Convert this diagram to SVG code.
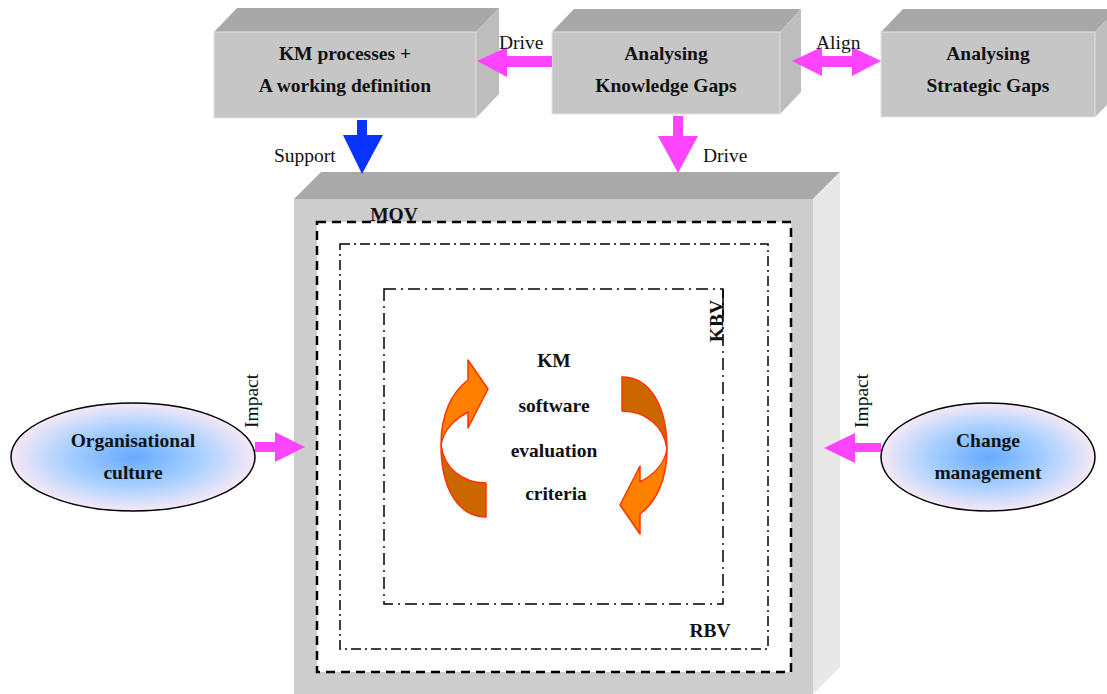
<svg xmlns="http://www.w3.org/2000/svg" width="1107" height="694" viewBox="0 0 1107 694">
<defs>
<radialGradient id="eg" cx="50%" cy="50%" r="50%">
<stop offset="0" stop-color="#66aaff"/>
<stop offset="0.55" stop-color="#a8d0ff"/>
<stop offset="1" stop-color="#f6e8f6"/>
</radialGradient>
<style>
.front{fill:#c6c6c6;stroke:#e2e2e2;stroke-width:1}
.top{fill:#a8a8a8}
.side{fill:#bdbdbd}
.t{font-family:"Liberation Serif","Times New Roman",serif;font-weight:bold;font-size:19.5px;fill:#111;text-anchor:middle}
.l{font-family:"Liberation Serif","Times New Roman",serif;font-size:19.5px;fill:#111}
.pink{fill:#ff44ff}
.blue{fill:#0a33ff}
.fr{fill:#ff8000;stroke:#ff3300;stroke-width:1.5;stroke-linejoin:round}
.bk{fill:#cc6600;stroke:#ff3300;stroke-width:1.5;stroke-linejoin:round}
.ell{fill:url(#eg);stroke:#000;stroke-width:1.5}
</style>
</defs>
<rect width="1107" height="694" fill="#fff"/>

<g id="frame">
<polygon points="294,199 321,172 840,172 813,199" fill="#a9a9a9"/>
<polygon points="813,199 840,172 840,667 813,694" fill="#e8e8e8"/>
<rect x="294" y="199" width="519" height="495" fill="#cdcdcd"/>
<rect x="317" y="222" width="474" height="450" fill="#fff" stroke="#000" stroke-width="2.5" stroke-dasharray="9,6"/>
<rect x="340" y="244" width="428" height="405" fill="none" stroke="#000" stroke-width="1.5" stroke-dasharray="10,4,2,4"/>
<rect x="384" y="289" width="339" height="315" fill="none" stroke="#000" stroke-width="1.5" stroke-dasharray="12,5,2,5"/>
<line x1="723" y1="290" x2="723" y2="316" stroke="#000" stroke-width="1.5"/>
<text class="t" x="394" y="221">MOV</text>
<text class="t" x="710" y="637">RBV</text>
<text class="t" transform="translate(723,321) rotate(-90)">KBV</text>
</g>

<g id="cycle">
<g id="arrow-left">
<path class="bk" d="M 441,445 C 444,468 462,483 486,483 L 486,517 C 458,517 441,488 441,445 Z"/>
<path class="fr" d="M 441,445 C 441,414 452,392 468,380 L 468,360 L 488,389 L 468,428 L 468,412 C 453,420 443,432 441,445 Z"/>
</g>
<g id="arrow-right" transform="rotate(180 554 447)">
<path class="bk" d="M 441,445 C 444,468 462,483 486,483 L 486,517 C 458,517 441,488 441,445 Z"/>
<path class="fr" d="M 441,445 C 441,414 452,392 468,380 L 468,360 L 488,389 L 468,428 L 468,412 C 453,420 443,432 441,445 Z"/>
</g>
<text class="t" x="554" y="367">KM</text>
<text class="t" x="554" y="412">software</text>
<text class="t" x="554" y="457">evaluation</text>
<text class="t" x="556" y="500">criteria</text>
</g>

<g id="box-km">
<polygon class="top" points="214,32 237,8 499,8 476,32"/>
<polygon class="side" points="476,32 499,8 499,94 476,118"/>
<rect class="front" x="214" y="32" width="262" height="86"/>
<text class="t" x="345" y="60">KM processes +</text>
<text class="t" x="345" y="92">A working definition</text>
</g>

<g id="box-kgaps">
<polygon class="top" points="552,32 574,9 801,9 780,32"/>
<polygon class="side" points="780,32 801,9 801,92 780,114"/>
<rect class="front" x="552" y="32" width="228" height="82"/>
<text class="t" x="666" y="60">Analysing</text>
<text class="t" x="666" y="92">Knowledge Gaps</text>
</g>

<g id="box-sgaps">
<polygon class="top" points="881,32 903,9 1117,9 1095,32"/>
<polygon class="side" points="1095,32 1117,9 1117,95 1095,117"/>
<rect class="front" x="881" y="32" width="214" height="85"/>
<text class="t" x="988" y="60">Analysing</text>
<text class="t" x="988" y="92">Strategic Gaps</text>
</g>

<g id="org-culture">
<ellipse class="ell" cx="133" cy="457" rx="122" ry="54"/>
<text class="t" x="133" y="447">Organisational</text>
<text class="t" x="133" y="479">culture</text>
</g>

<g id="change-mgmt">
<ellipse class="ell" cx="988" cy="457" rx="107" ry="54"/>
<text class="t" x="988" y="447">Change</text>
<text class="t" x="988" y="479">management</text>
</g>

<g id="connectors">
<polygon class="pink" points="552,56 507,56 507,47 477,61 507,77 507,67 552,67"/>
<text class="l" x="499" y="49">Drive</text>
<polygon class="pink" points="792,61 822,47 822,56 852,56 852,47 881,61 852,76 852,67 822,67 822,76"/>
<text class="l" x="816" y="49">Align</text>
<polygon class="blue" points="357,120 367,120 367,135 383,135 362,174 343,135 357,135"/>
<text class="l" x="274" y="162">Support</text>
<polygon class="pink" points="673,116 683,116 683,136 698,136 678,173 658,136 673,136"/>
<text class="l" x="703" y="162">Drive</text>
<polygon class="pink" points="255,442 275,442 275,432 305,447 275,462 275,452 255,452"/>
<text class="l" transform="translate(258,428) rotate(-90)">Impact</text>
<polygon class="pink" points="881,443 855,443 855,433 824,448 855,463 855,452 881,452"/>
<text class="l" transform="translate(868,428) rotate(-90)">Impact</text>
</g>
</svg>
